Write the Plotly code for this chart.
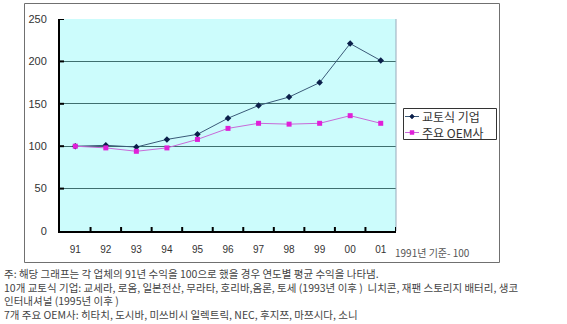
import plotly.graph_objects as go

years = ["91", "92", "93", "94", "95", "96", "97", "98", "99", "00", "01"]
kyoto = [100, 101, 99, 108, 114, 133, 148, 158, 175, 221, 201]
oem = [100, 98, 94, 98, 108, 121, 127, 126, 127, 136, 127]
series_names = ["교토식 기업", "주요 OEM사"]
y_ticks = [0, 50, 100, 150, 200, 250]

notes = [
    "주: 해당 그래프는 각 업체의 91년 수익을 100으로 했을 경우 연도별 평균 수익을 나타냄.",
    "10개 교토식 기업: 교세라, 로옴, 일본전산, 무라타, 호리바,옴론, 토세 (1993년 이후 )  니치콘, 재팬 스토리지 배터리, 생코",
    "인터내셔널 (1995년 이후 )",
    "7개 주요 OEM사: 히타치, 도시바, 미쓰비시 일렉트릭, NEC, 후지쯔, 마쯔시다, 소니",
]
base_note = "1991년 기준- 100"

FONT = "Liberation Sans, Noto Sans CJK KR, sans-serif"
KFONT = "Noto Sans CJK KR, sans-serif"

LINE_COLORS = ["#3a5a78", "#c86ad8"]
MARKER_COLORS = ["#0b1f4a", "#e020d8"]

# pixel geometry of plot area
L, R, T, B = 60, 396, 19, 231
W, H = 567, 324
def px(x): return (x - L) / (R - L)
def py(y): return (B - y) / (B - T)

fig = go.Figure()
fig.add_trace(go.Scatter(
    x=years, y=kyoto, name=series_names[0], mode="lines+markers",
    line=dict(color=LINE_COLORS[0], width=1),
    marker=dict(symbol="diamond", size=5, color=MARKER_COLORS[0]),
))
fig.add_trace(go.Scatter(
    x=years, y=oem, name=series_names[1], mode="lines+markers",
    line=dict(color=LINE_COLORS[1], width=1),
    marker=dict(symbol="square", size=5, color=MARKER_COLORS[1]),
))

fig.update_layout(
    width=W, height=H,
    margin=dict(l=L, r=W - R, t=T, b=H - B),
    paper_bgcolor="white",
    plot_bgcolor="#ccfcfc",
    font=dict(family=FONT, size=10, color="#333333"),
    showlegend=False,
    xaxis=dict(
        type="category", showgrid=False, showline=True, linecolor="black", linewidth=2,
        ticks="", tickfont=dict(size=10, color="#333333"), ticklabelstandoff=8,
        range=[-0.5, len(years) - 0.5], fixedrange=True,
    ),
    yaxis=dict(
        range=[0, 250], tickvals=y_ticks, showgrid=True, gridcolor="#3f6f6f", gridwidth=1,
        showline=True, linecolor="black", linewidth=2, zeroline=False,
        ticks="", tickfont=dict(size=11, color="#333333"), ticklabelstandoff=9,
    ),
)

shapes = []
# outer frame (four lines, placed on pixel centres)
fx0, fx1, fy0, fy1 = px(24.5), px(499.5), py(262.5), py(3.5)
frame_line = dict(color="#707070", width=1)
for (a, b, c, d) in [(fx0, fx1, fy1, fy1), (fx0, fx1, fy0, fy0), (fx0, fx0, fy0, fy1), (fx1, fx1, fy0, fy1)]:
    shapes.append(dict(type="line", xref="paper", yref="paper", x0=a, x1=b, y0=c, y1=d,
                       line=frame_line, layer="above"))
# right border of plot
shapes.append(dict(type="line", xref="paper", yref="paper", x0=1, x1=1, y0=0, y1=1,
                   line=dict(color="#9ab", width=1)))
# x tick marks at category boundaries (inside)
for i in range(1, len(years) + 1):
    shapes.append(dict(type="line", xref="x", yref="paper", x0=i - 0.5, x1=i - 0.5,
                       y0=0, y1=4 / (B - T), line=dict(color="black", width=2)))
# y tick marks (inside)
for v in y_ticks[1:]:
    shapes.append(dict(type="line", xref="paper", yref="y", x0=0, x1=4 / (R - L),
                       y0=v, y1=v, line=dict(color="black", width=2)))

# hand-drawn legend box (matches the compact Excel-style legend)
shapes.append(dict(type="rect", xref="paper", yref="paper",
                   x0=px(403.5), x1=px(496.5), y0=py(139.5), y1=py(108.5),
                   line=dict(color="#333333", width=1), fillcolor="white", layer="above"))
anns = []
row_y = [116, 132]
for k in range(2):
    yy = row_y[k] + 0.5
    shapes.append(dict(type="line", xref="paper", yref="paper", x0=px(405), x1=px(419),
                       y0=py(yy), y1=py(yy), line=dict(color=LINE_COLORS[k], width=1), layer="above"))
    cx, cy, s = 412, yy, 2.5
    if k == 0:
        path = (f"M {px(cx - s)},{py(cy)} L {px(cx)},{py(cy - s)} "
                f"L {px(cx + s)},{py(cy)} L {px(cx)},{py(cy + s)} Z")
    else:
        s = 2
        path = (f"M {px(cx - s)},{py(cy - s)} L {px(cx + s)},{py(cy - s)} "
                f"L {px(cx + s)},{py(cy + s)} L {px(cx - s)},{py(cy + s)} Z")
    shapes.append(dict(type="path", xref="paper", yref="paper", path=path,
                       fillcolor=MARKER_COLORS[k], line=dict(color=MARKER_COLORS[k], width=0.5),
                       layer="above"))
    anns.append(dict(text=series_names[k], xref="paper", yref="paper", x=px(420), y=py(yy),
                     xanchor="left", yanchor="middle", showarrow=False,
                     font=dict(family=KFONT, size=12, color="#333333")))
fig.update_layout(shapes=shapes)

anns.append(dict(text=base_note, xref="paper", yref="paper", x=px(393), y=py(252),
                 xanchor="left", yanchor="middle", showarrow=False,
                 font=dict(family=KFONT, size=10, color="#555555")))
anns.append(dict(text="<br>".join(notes), xref="paper", yref="paper", x=px(2), y=py(264),
                 xanchor="left", yanchor="top", align="left", showarrow=False,
                 font=dict(family=KFONT, size=10.5, color="#444444")))
fig.update_layout(annotations=anns)

fig.write_html("out.html")
